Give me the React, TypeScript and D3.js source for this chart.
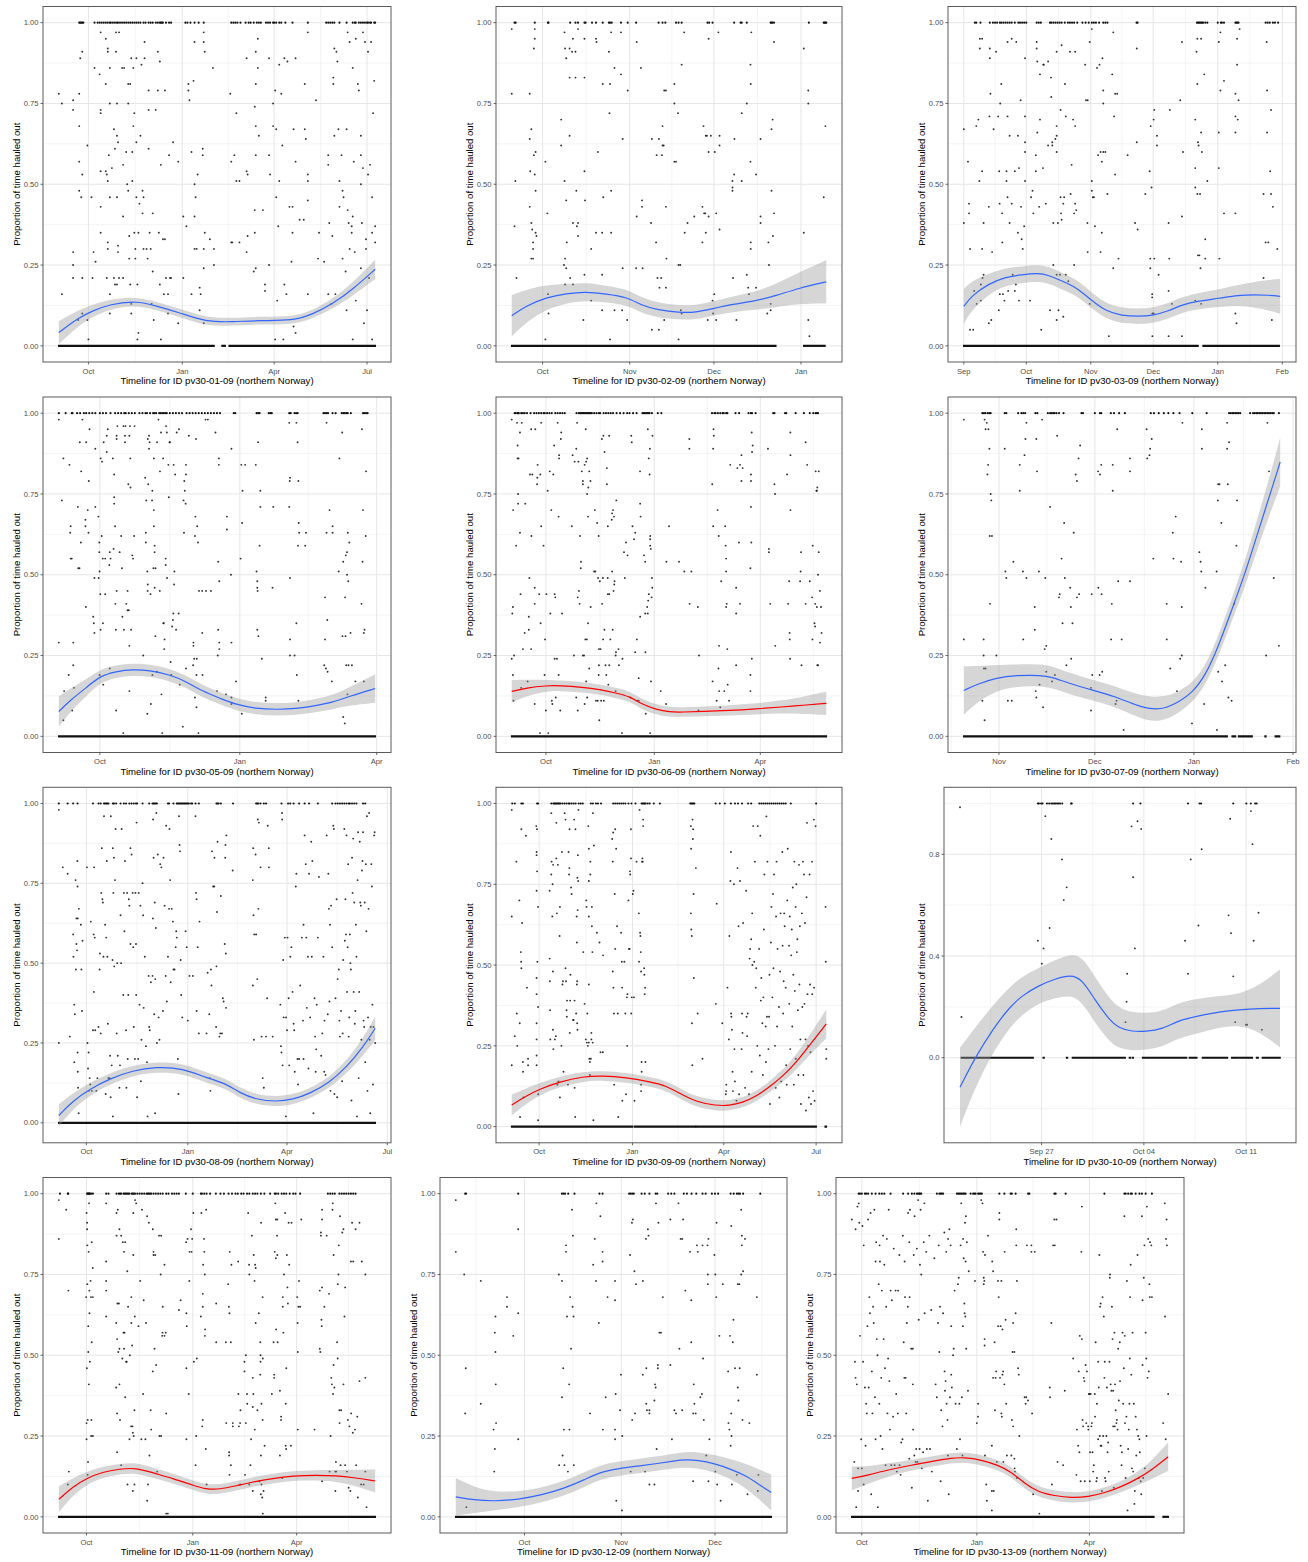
import React from "react";
import * as d3 from "d3";

// Daily haul-out proportions for harbour seals tagged in northern Norway.
// Each animal: deployment start, track length (days), scattered daily values
// (day offset, proportion), days fully hauled out (value 1), runs of days at
// value 0, and the smoothed trend [day, fit, half-width of the 95% band].

type Pt = [number, number];
type Fit = [number, number, number];

const seals = ["pv30-01-09", "pv30-02-09", "pv30-03-09", "pv30-05-09", "pv30-06-09", "pv30-07-09",
  "pv30-08-09", "pv30-09-09", "pv30-10-09", "pv30-11-09", "pv30-12-09", "pv30-13-09"];

const trackStarts = [
  new Date(2009, 8, 2), new Date(2009, 8, 20), new Date(2009, 8, 1), new Date(2009, 8, 4),
  new Date(2009, 8, 2), new Date(2009, 9, 21), new Date(2009, 8, 6), new Date(2009, 8, 4),
  new Date(2009, 8, 21, 10), new Date(2009, 8, 7), new Date(2009, 8, 9), new Date(2009, 8, 23),
];
const trackDays = [310, 112, 152, 208, 267, 99, 287, 310, 21.9, 274, 101, 253];

// smoother colour group per animal
const smoothGroup = ["a", "a", "a", "a", "b", "a", "a", "b", "a", "b", "a", "b"];

const ticks01: [Date, string][] = [[new Date(2009, 9, 1), "Oct"], [new Date(2010, 0, 1), "Jan"], [new Date(2010, 3, 1), "Apr"], [new Date(2010, 6, 1), "Jul"]];
const ticks02: [Date, string][] = [[new Date(2009, 9, 1), "Oct"], [new Date(2009, 10, 1), "Nov"], [new Date(2009, 11, 1), "Dec"], [new Date(2010, 0, 1), "Jan"]];
const ticks03: [Date, string][] = [[new Date(2009, 8, 1), "Sep"], [new Date(2009, 9, 1), "Oct"], [new Date(2009, 10, 1), "Nov"], [new Date(2009, 11, 1), "Dec"], [new Date(2010, 0, 1), "Jan"], [new Date(2010, 1, 1), "Feb"]];
const ticks05: [Date, string][] = [[new Date(2009, 9, 1), "Oct"], [new Date(2010, 0, 1), "Jan"], [new Date(2010, 3, 1), "Apr"]];
const ticks07: [Date, string][] = [[new Date(2009, 10, 1), "Nov"], [new Date(2009, 11, 1), "Dec"], [new Date(2010, 0, 1), "Jan"], [new Date(2010, 1, 1), "Feb"]];
const ticks10: [Date, string][] = [[new Date(2009, 8, 27), "Sep 27"], [new Date(2009, 9, 4), "Oct 04"], [new Date(2009, 9, 11), "Oct 11"]];
const ticks12: [Date, string][] = [[new Date(2009, 9, 1), "Oct"], [new Date(2009, 10, 1), "Nov"], [new Date(2009, 11, 1), "Dec"]];
const xTickSets = [ticks01, ticks02, ticks03, ticks05, ticks05, ticks07, ticks01, ticks01, ticks10, ticks05, ticks12, ticks05];

const yTicksQuarter: [number, string][] = [[0, "0.00"], [0.25, "0.25"], [0.5, "0.50"], [0.75, "0.75"], [1, "1.00"]];
const yTicksFifth: [number, string][] = [[0, "0.0"], [0.4, "0.4"], [0.8, "0.8"]];

// ---------- pv30-01-09 ----------
const p01Scatter: Pt[] = [[0,0.78],[3,0.75],[3,0.16],[14,0.76],[14,0.73],[14,0.29],[14,0.25],[14,0.21],[20,0.78],[20,0.68],[20,0.57],[20,0.48],[22,0.46],[23,0.53],[21,0.89],[23,0.91],[23,0.21],[23,0.1],[19,0.08],[28,0.08],[29,0.02],[28,0.62],[32,0.46],[33,0.21],[34,0.29],[35,0.86],[36,0.26],[40,0.84],[41,0.72],[41,0.73],[41,0.43],[41,0.54],[41,0.35],[46,0.54],[46,0.81],[41,0.97],[46,0.95],[48,0.92],[48,0.91],[47,0.53],[48,0.51],[49,0.59],[50,0.46],[48,0.32],[48,0.3],[47,0.21],[50,0.16],[50,0.1],[50,0.86],[50,0.75],[52,0.55],[54,0.67],[54,0.21],[55,0.61],[57,0.65],[58,0.63],[57,0.75],[56,0.97],[59,0.97],[56,0.91],[57,0.46],[58,0.31],[58,0.29],[59,0.21],[57,0.19],[55,0.19],[62,0.86],[63,0.56],[63,0.4],[63,0.21],[64,0.86],[66,0.6],[67,0.5],[68,0.48],[69,0.34],[69,0.27],[68,0.75],[68,0.81],[70,0.81],[71,0.89],[70,0.19],[71,0.13],[71,0.1],[72,0.51],[72,0.6],[73,0.86],[73,0.68],[74,0.72],[74,0.35],[75,0.3],[75,0.27],[76,0.46],[76,0.63],[76,0.89],[77,0.19],[77,0.02],[78,0.04],[78,0.35],[79,0.44],[80,0.65],[81,0.87],[82,0.48],[82,0.41],[83,0.46],[83,0.3],[84,0.89],[84,0.94],[86,0.3],[87,0.27],[88,0.61],[89,0.35],[90,0.3],[91,0.13],[92,0.41],[92,0.23],[93,0.08],[88,0.79],[88,0.73],[95,0.73],[97,0.79],[97,0.91],[99,0.88],[100,0.56],[100,0.02],[99,0.19],[98,0.35],[102,0.33],[103,0.16],[104,0.79],[104,0.33],[105,0.21],[107,0.16],[107,0.1],[109,0.21],[110,0.21],[108,0.59],[112,0.63],[117,0.57],[117,0.07],[122,0.4],[122,0.21],[125,0.37],[127,0.81],[127,0.79],[128,0.76],[130,0.16],[130,0.6],[132,0.82],[133,0.94],[133,0.5],[133,0.4],[133,0.3],[134,0.46],[135,0.3],[136,0.53],[138,0.18],[138,0.11],[139,0.16],[141,0.59],[141,0.61],[142,0.94],[142,0.97],[143,0.35],[143,0.91],[142,0.3],[142,0.24],[148,0.33],[151,0.86],[152,0.3],[152,0.25],[142,0.07],
  [168,0.78],[169,0.32],[170,0.32],[169,0.57],[172,0.59],[174,0.72],[174,0.51],[177,0.51],[177,0.32],[184,0.29],[184,0.54],[185,0.53],[185,0.34],[184,0.89],[191,0.23],[192,0.74],[192,0.42],[193,0.81],[193,0.59],[192,0.35],[193,0.24],[193,0.68],[193,0.91],[195,0.95],[195,0.86],[196,0.65],[200,0.42],[202,0.19],[202,0.17],[206,0.59],[206,0.25],[207,0.53],[206,0.89],[210,0.75],[210,0.68],[212,0.79],[212,0.02],[213,0.67],[213,0.46],[214,0.14],[215,0.37],[216,0.51],[216,0.87],[218,0.78],[219,0.62],[220,0.02],[221,0.19],[221,0.89],[223,0.16],[224,0.88],[226,0.43],[228,0.26],[229,0.43],[229,0.35],[230,0.67],[230,0.06],[232,0.04],[232,0.89],[232,0.57],[236,0.39],[240,0.39],[241,0.81],[241,0.67],[242,0.64],[244,0.97],[244,0.53],[244,0.51],[244,0.45],[244,0.16],[252,0.76],[254,0.27],[255,0.35],[260,0.26],[264,0.59],[264,0.56],[264,0.16],[265,0.38],[267,0.13],[268,0.34],[269,0.83],[269,0.81],[270,0.92],[271,0.16],[270,0.65],[272,0.91],[273,0.88],[274,0.67],[275,0.51],[275,0.43],[277,0.59],[278,0.48],[278,0.27],[279,0.46],[281,0.23],[282,0.11],[282,0.67],[283,0.42],[283,0.97],[284,0.38],[285,0.94],[285,0.3],[287,0.35],[287,0.37],[288,0.02],[288,0.4],[288,0.86],[289,0.57],[290,0.29],[291,0.14],[291,0.95],[293,0.81],[294,0.79],[296,0.65],[296,0.59],[296,0.24],[296,0.5],[297,0.38],[298,0.97],[298,0.55],[299,0.07],[300,0.94],[301,0.33],[301,0.3],[302,0.11],[303,0.91],[303,0.53],[304,0.21],[305,0.56],[306,0.94],[307,0.02],[307,0.46],[307,0.35],[308,0.72],[309,0.82],[310,0.32],[310,0.37]];
const p01Full = [20,21,22,23,24,35,38,40,42,44,46,48,50,51,53,55,57,58,60,62,64,66,68,70,72,74,76,78,80,83,85,88,90,92,95,97,99,100,101,102,105,108,110,124,126,129,133,137,142,169,171,173,175,178,183,186,188,191,194,196,198,203,205,207,210,211,213,216,218,222,229,244,262,264,266,268,270,275,282,288,290,291,294,296,298,300,302,303,305,306,309,310];
const p01ZeroRuns: Pt[] = [[0,152],[160,163],[167,310]];
const p01Fit: Fit[] = [[0,0.041,0.035],[20,0.088,0.024],[33,0.108,0.019],[50,0.129,0.015],[76,0.139,0.013],[95,0.124,0.013],[118,0.103,0.013],[144,0.074,0.013],[170,0.074,0.012],[197,0.079,0.012],[229,0.077,0.012],[249,0.098,0.013],[268,0.129,0.015],[288,0.175,0.02],[310,0.237,0.03]];

// ---------- pv30-02-09 ----------
const p02Scatter: Pt[] = [[0,0.78],[0,0.98],[1,0.37],[1.3,0.51],[1.7,0.21],[6.4,0.78],[6.4,0.64],[6.6,0.54],[7,0.67],[6.4,0.43],[7,0.38],[7.3,0.36],[7.6,0.32],[7.6,0.3],[7,0.27],[7.6,0.27],[7.9,0.92],[8.2,0.95],[8.2,0.98],[7.9,0.59],[8.2,0.53],[8.5,0.6],[8.5,0.48],[8.8,0.34],[8.5,0.35],[12,0.57],[12,0.02],[12.7,0.41],[12.9,0.16],[13.1,0.1],[17.6,0.7],[17.6,0.62],[18.6,0.25],[18.8,0.51],[18.8,0.97],[19,0.92],[19,0.27],[19.4,0.24],[19,0.19],[19.4,0.45],[19.6,0.32],[19.4,0.89],[20.6,0.92],[20.6,0.65],[20.6,0.83],[20.8,0.21],[21.5,0.91],[21.8,0.95],[21.8,0.38],[21.8,0.19],[22.7,0.83],[22.7,0.91],[23,0.48],[23.2,0.37],[23.6,0.38],[23.6,0.34],[23.6,0.98],[25.9,0.95],[25.9,0.83],[25.9,0.54],[26.1,0.45],[25.9,0.22],[25.5,0.08],[28.3,0.3],[28.3,0.14],[30,0.95],[30.2,0.94],[30.7,0.6],[30,0.35],[32.2,0.35],[32.4,0.81],[32.6,0.46],[32.2,0.22],[32.2,0.11],[34.6,0.91],[34.8,0.72],[35,0.81],[35.4,0.97],[35.4,0.48],[35.4,0.35],[35,0.02],[36.6,0.86],[36.6,0.11],[38.9,0.97],[38.9,0.84],[39.3,0.11],[39.5,0.64],[39.5,0.24],[41.3,0.79],[41.1,0.08],[44.3,0.24],[44.5,0.94],[44.5,0.4],[46,0.86],[46.4,0.45],[46.4,0.43],[46.6,0.24],[49.6,0.38],[49.9,0.05],[49.9,0.64],[51.4,0.32],[51.6,0.59],[51.9,0.21],[52.4,0.64],[52.4,0.05],[52.6,0.18],[53.2,0.21],[53.5,0.59],[53.7,0.68],[53.7,0.62],[54.1,0.62],[54.3,0.79],[54.9,0.79],[54.9,0.18],[54.3,0.08],[54.9,0.43],[55.1,0.27],[57.9,0.81],[57.9,0.75],[57.9,0.57],[58.5,0.57],[59.2,0.72],[59.4,0.25],[60,0.25],[60.2,0.11],[60.5,0.1],[60.5,0.87],[59.4,0.02],[61.4,0.97],[61.6,0.35],[62.6,0.38],[65,0.4],[67.9,0.32],[67.9,0.43],[68.3,0.68],[68.5,0.41],[68.9,0.41],[69.1,0.35],[69.1,0.65],[69.5,0.65],[70.1,0.6],[70.1,0.95],[70.1,0.4],[69.8,0.08],[70.9,0.65],[71.5,0.14],[71.7,0.1],[72.1,0.16],[72.3,0.6],[72.8,0.41],[73.6,0.97],[74,0.36],[74,0.62],[74,0.65],[72.8,0.08],[78.6,0.51],[78.6,0.49],[78.6,0.48],[78.8,0.21],[79.2,0.53],[79.3,0.64],[80,0.08],[81.9,0.51],[81.9,0.72],[83.7,0.75],[83.7,0.22],[84.2,0.18],[84.5,0.16],[85,0.57],[85.1,0.32],[85.1,0.3],[85.3,0.97],[85.1,0.81],[85,0.87],[87,0.53],[87,0.18],[88.6,0.64],[88.6,0.4],[88.6,0.38],[91,0.1],[91.4,0.32],[91.6,0.25],[92.2,0.13],[92.2,0.11],[92.5,0.67],[92.5,0.48],[92.9,0.7],[93.4,0.41],[93,0.34],[93.4,0.94],[104,0.92],[104,0.35],[105.6,0.79],[105.6,0.75],[105.6,0.08],[106,0.03],[111.1,0.46],[111.7,0.68]];
const p02Full = [1,1.4,8.2,12.9,13.1,20.8,22.7,23.6,25.9,26.3,28.6,30,32.4,34.6,35,35.6,38.9,41.3,44.3,52.3,53.7,54.7,58.5,59.4,60.5,69.7,70.3,71.5,79.2,81.5,81.9,83.7,92.2,92.5,92.8,93.4,105.8,111.1,111.4,111.7,112];
const p02ZeroRuns: Pt[] = [[0,94],[104,111.5]];
const p02Fit: Fit[] = [[0,0.093,0.064],[5.2,0.124,0.05],[12.3,0.15,0.038],[19.4,0.162,0.03],[26.5,0.168,0.028],[33.6,0.16,0.026],[40.7,0.152,0.025],[46.6,0.124,0.024],[52,0.111,0.023],[59.6,0.103,0.022],[65.6,0.103,0.022],[71.5,0.115,0.022],[78.6,0.129,0.024],[86.9,0.139,0.028],[94,0.155,0.036],[102,0.178,0.048],[112,0.198,0.067]];

// ---------- pv30-03-09 ----------
const p03Scatter: Pt[] = [[0,0.67],[0,0.38],[2,0.57],[2.5,0.41],[2.5,0.44],[3,0.3],[3,0.05],[4.5,0.05],[5,0.17],[6,0.68],[6.2,0.13],[7,0.7],[7.5,0.51],[7.7,0.95],[7.7,0.92],[8.2,0.19],[8.2,0.14],[8.8,0.95],[8.8,0.54],[8.8,0.3],[9,0.21],[9.5,0.38],[9.5,0.22],[12,0.43],[12,0.07],[12.3,0.71],[12.5,0.89],[12.5,0.92],[12.8,0.78],[13.2,0.08],[13.6,0.29],[14.3,0.67],[15.5,0.91],[16.5,0.71],[16.8,0.11],[17,0.54],[17.2,0.44],[17.3,0.16],[17.5,0.75],[18,0.81],[18.4,0.41],[18.5,0.32],[18.8,0.16],[19.5,0.14],[20.5,0.51],[20.5,0.54],[21,0.94],[21,0.71],[21,0.46],[21.3,0.17],[22,0.65],[22,0.38],[23,0.95],[23,0.44],[23.5,0.22],[24.5,0.54],[24.5,0.17],[25,0.19],[25.2,0.94],[26,0.35],[26,0.65],[26.5,0.55],[26.5,0.14],[27.3,0.76],[27.5,0.43],[27.8,0.33],[28.3,0.3],[29,0.37],[29.4,0.89],[29.4,0.63],[29.4,0.6],[29.4,0.51],[29.4,0.71],[31.8,0.14],[32.3,0.46],[33,0.48],[33.4,0.41],[34.6,0.54],[34.6,0.59],[35,0.94],[35,0.92],[35.3,0.88],[35.3,0.66],[36.2,0.43],[36.6,0.7],[36.6,0.84],[37.2,0.05],[38,0.55],[38.2,0.87],[38.4,0.87],[39.4,0.44],[40.5,0.62],[40.5,0.88],[41.4,0.11],[41.9,0.83],[42,0.77],[42.5,0.62],[42.5,0.63],[43,0.38],[43,0.25],[44,0.64],[44.6,0.65],[44.6,0.6],[44.6,0.68],[44.6,0.91],[44.6,0.22],[44.6,0.08],[45.2,0.38],[45.5,0.11],[46.2,0.22],[46.5,0.73],[46.5,0.46],[46.7,0.41],[47,0.39],[47,0.93],[47.8,0.44],[47.8,0.09],[48.2,0.46],[48.6,0.81],[49,0.71],[49,0.22],[50.2,0.2],[51,0.91],[51.3,0.47],[51.8,0.56],[52.5,0.7],[53,0.41],[53,0.25],[53.5,0.44],[53.5,0.68],[54,0.42],[53.5,0.91],[58.3,0.87],[58.7,0.76],[59.5,0.76],[59.4,0.38],[59.5,0.29],[60.5,0.94],[60.5,0.13],[61.5,0.98],[61.5,0.51],[61.5,0.48],[62,0.46],[62.5,0.46],[63,0.37],[64,0.86],[64.5,0.59],[65.2,0.87],[65.7,0.29],[65.7,0.6],[66.3,0.57],[66.3,0.35],[66.6,0.89],[67,0.79],[67,0.75],[67,0.6],[68,0.6],[69,0.47],[69.7,0.03],[71.3,0.84],[71.8,0.97],[71.8,0.24],[72.2,0.71],[72.7,0.53],[72.7,0.78],[73.7,0.78],[74.3,0.27],[78.7,0.59],[82.3,0.38],[83.1,0.63],[83.1,0.92],[83.5,0.36],[87.2,0.47],[89.3,0.54],[89.6,0.27],[89.6,0.24],[89.8,0.68],[90.2,0.49],[90.5,0.16],[90.5,0.15],[90.6,0.1],[90.6,0.03],[91.2,0.1],[91.2,0.7],[91.5,0.73],[91.5,0.27],[92.8,0.65],[92.8,0.62],[93.6,0.22],[98.4,0.03],[98.4,0.38],[98.4,0.17],[98.7,0.27],[99,0.73],[100,0.13],[104,0.76],[104.8,0.03],[104.8,0.94],[105.3,0.6],[104.8,0.4],[111.2,0.7],[111.2,0.55],[111.2,0.49],[111.2,0.14],[111.8,0.91],[112.2,0.95],[112.2,0.81],[112.2,0.47],[112.5,0.28],[112.5,0.63],[112.8,0.62],[113.2,0.28],[113.5,0.47],[113.7,0.24],[114,0.95],[114,0.66],[114,0.13],[114.4,0.6],[115.5,0.84],[116,0.27],[116,0.33],[117,0.51],[122.5,0.94],[122.5,0.66],[122.5,0.55],[122.8,0.27],[123.3,0.97],[123.3,0.79],[125,0.41],[125,0.82],[130.5,0.66],[130.5,0.71],[130.5,0.78],[130.5,0.41],[130.5,0.1],[131,0.07],[131.3,0.95],[131.3,0.87],[131.6,0.7],[132,0.76],[132.5,0.98],[144,0.47],[144,0.21],[145,0.32],[145.5,0.94],[145.7,0.79],[145.7,0.66],[146.3,0.32],[147.2,0.54],[147.6,0.47],[147.6,0.73],[148,0.08],[148.5,0.43],[150.6,0.3]];
const p03Full = [5.3,6,8,12.5,14,15,16,17.3,18,19,20,21,22,23,24.5,26.2,27,28,29,30,35,36,37,41.4,42,43,44,45,46,47,48.5,50,51,52,53,54.5,57,58.5,60,61.5,62.5,63.5,65,67,68,69,83,83.5,112,112.5,113,113.5,114,114.5,115,116,117,122,123.5,124,125,130.5,131,131.5,132,145,146,147,148.5,149.5,151];
const p03ZeroRuns: Pt[] = [[0,112.5],[115,151.5]];
const p03Fit: Fit[] = [[0,0.122,0.054],[3.7,0.155,0.045],[11.7,0.191,0.032],[19.7,0.213,0.027],[27.8,0.22,0.026],[35.8,0.225,0.026],[40.6,0.219,0.026],[47,0.201,0.026],[54.3,0.18,0.025],[60.7,0.144,0.025],[67.9,0.108,0.024],[75.9,0.093,0.024],[84,0.091,0.024],[90.4,0.093,0.024],[98.4,0.108,0.024],[104.8,0.127,0.024],[112.8,0.139,0.025],[122.5,0.147,0.027],[132,0.157,0.032],[140,0.158,0.04],[146.5,0.157,0.047],[152,0.153,0.054]];

// ---------- pv30-05-09 ----------
const p05Scatter: Pt[] = [[0,0.98],[0,0.29],[2,0.73],[3,0.86],[3,0.05],[3.5,0.14],[6.5,0.19],[7,0.84],[7.5,0.63],[7.8,0.65],[7.8,0.55],[8.5,0.55],[8.8,0.08],[9.5,0.29],[9.5,0.22],[10,0.15],[12.5,0.71],[12.8,0.52],[13.6,0.52],[13.8,0.91],[14.5,0.6],[14.7,0.82],[15.5,0.98],[17.5,0.67],[17.5,0.65],[17.8,0.4],[18,0.91],[19,0.7],[19.5,0.63],[19.7,0.79],[20.2,0.95],[22.6,0.37],[23,0.35],[23.4,0.32],[23.4,0.49],[24,0.89],[24,0.71],[26,0.68],[26.2,0.49],[26.6,0.6],[26.6,0.57],[26.8,0.51],[26.8,0.19],[27.3,0.44],[27.5,0.86],[27.5,0.33],[28.2,0.62],[28.4,0.85],[28.9,0.55],[29,0.35],[29.2,0.16],[29.5,0.91],[30.5,0.44],[30.5,0.55],[31.5,0.88],[32.2,0.95],[31.5,0.93],[33.2,0.53],[33.5,0.57],[33.5,0.21],[34,0.55],[35.5,0.86],[36,0.58],[36.4,0.81],[36.4,0.74],[36.4,0.72],[37,0.65],[37.2,0.41],[37.5,0.33],[37.7,0.08],[38,0.45],[38,0.93],[38,0.92],[38.5,0.96],[40,0.57],[41,0.62],[41.5,0.52],[41.8,0.37],[42.4,0.01],[42.5,0.96],[42.8,0.33],[43.5,0.91],[43.5,0.93],[43.8,0.96],[44.4,0.41],[45.2,0.45],[45.2,0.39],[45.7,0.78],[46,0.39],[46.4,0.28],[46.4,0.93],[46.4,0.14],[46.8,0.96],[47,0.86],[47.1,0.77],[47.5,0.33],[48.3,0.56],[48.8,0.55],[49.5,0.62],[49.8,0.96],[55.5,0.25],[56.8,0.8],[57.2,0.63],[57.2,0.6],[57.5,0.73],[58.2,0.51],[58.4,0.45],[58.2,0.07],[58.5,0.47],[58.8,0.78],[58.5,0.92],[59.3,0.89],[59.3,0.93],[59.7,0.91],[60.3,0.44],[60.5,0.1],[61.3,0.73],[61.5,0.76],[61.5,0.19],[62.2,0.52],[62.5,0.65],[62.5,0.86],[62.5,0.7],[63,0.57],[63,0.46],[63,0.59],[63.5,0.31],[63.6,0.52],[64.6,0.91],[65.5,0.98],[64.5,0.2],[66.4,0.45],[66.5,0.82],[67.2,0.94],[67.5,0.13],[68,0.01],[68.6,0.86],[68.7,0.35],[69,0.35],[69.3,0.27],[69.5,0.3],[70.3,0.55],[70.3,0.53],[70.5,0.96],[71,0.94],[71.2,0.49],[72,0.84],[72.3,0.74],[72.8,0.91],[73,0.91],[73.5,0.23],[74,0.19],[74.5,0.34],[75,0.36],[75.3,0.38],[75.5,0.84],[75.8,0.47],[76,0.51],[76.5,0.81],[77.1,0.33],[77.5,0.94],[78.8,0.38],[79.5,0.16],[79,0.95],[81.5,0.03],[82,0.73],[82.3,0.63],[82.5,0.79],[82.8,0.76],[83.4,0.72],[83.6,0.81],[83.6,0.84],[83.6,0.21],[85.5,0.93],[88.3,0.22],[88.5,0.28],[88.5,0.29],[89,0.24],[89.5,0.12],[89.5,0.62],[89.8,0.68],[90.2,0.92],[90.5,0.19],[90.5,0.09],[90.7,0.24],[91,0.65],[91.5,0.6],[91.8,0.01],[92.2,0.45],[94.3,0.45],[94.3,0.32],[94.5,0.19],[96.5,0.98],[96.8,0.45],[98,0.98],[100,0.45],[103,0.94],[104,0.14],[104.5,0.25],[104.8,0.33],[104.8,0.54],[105.2,0.86],[105.2,0.84],[105.5,0.48],[105.5,0.29],[105.5,0.27],[109.9,0.13],[110.5,0.68],[110.5,0.64],[113.5,0.89],[113.5,0.29],[113.5,0.1],[113.2,0.5],[113.5,0.12],[116.5,0.17],[119.5,0.55],[120,0.84],[120.3,0.07],[120.5,0.66],[120.8,0.76],[122.5,0.84],[129.5,0.84],[130,0.51],[130.5,0.48],[130.5,0.46],[130.5,0.33],[130.7,0.45],[131,0.91],[131.2,0.31],[132,0.59],[132.5,0.71],[132.5,0.76],[133.5,0.24],[136,0.12],[136,0.11],[140.5,0.46],[141,0.71],[151.5,0.71],[151.5,0.97],[151.8,0.79],[152,0.8],[152,0.49],[152,0.3],[152,0.25],[155,0.25],[156.2,0.97],[156.2,0.35],[156.5,0.19],[157,0.91],[157.3,0.59],[157.5,0.79],[157.5,0.11],[157.7,0.66],[158,0.63],[162,0.59],[162.5,0.63],[174.5,0.22],[175,0.43],[175,0.3],[175.6,0.21],[176,0.97],[176,0.63],[176.5,0.36],[176.7,0.2],[178,0.7],[179.5,0.17],[180,0.65],[180,0.63],[184,0.51],[184.5,0.86],[186.3,0.94],[186.5,0.31],[187,0.06],[187,0.54],[188,0.04],[188.2,0.43],[188.5,0.31],[188.7,0.56],[189,0.22],[189.5,0.5],[189.5,0.57],[189.8,0.13],[190,0.63],[190.3,0.48],[191,0.6],[190.5,0.22],[191.8,0.32],[192.7,0.22],[195,0.17],[199,0.41],[199.3,0.95],[199.7,0.54],[200,0.7],[200.5,0.17],[200.5,0.32],[201,0.33],[202,0.82],[201.8,0.62]];
const p05Full = [0,4.5,8.5,9,12,14,16.5,18,20,22,24,27,29,31,34,37,39,41,43,44,46,48,50,53,55,57,58,60,62,63,64,66,67,68,69,70,71,73,75,77,79,81,84,86,88,90,92,94,96,98,100,102,104,106,115,116,130,131,132,138,139,140,151.5,152.5,155,156,157,174,175,176,177,180,182,186,187,188,189,190,192,200,201,202,203];
const p05ZeroRuns: Pt[] = [[0,208]];
const p05Fit: Fit[] = [[0,0.077,0.047],[8.1,0.114,0.035],[18,0.15,0.026],[26.7,0.186,0.021],[37.7,0.201,0.019],[48.6,0.207,0.019],[59.6,0.204,0.019],[72.7,0.191,0.019],[83.6,0.17,0.019],[94.6,0.139,0.019],[105.5,0.119,0.019],[116.5,0.098,0.019],[129.6,0.086,0.019],[142.8,0.083,0.019],[155.9,0.085,0.019],[169,0.095,0.02],[180,0.105,0.022],[191,0.124,0.028],[208,0.148,0.044]];

// ---------- pv30-06-09 ----------
const p06Scatter: Pt[] = [[0,0.98],[0,0.24],[0.5,0.38],[1,0.19],[1.5,0.11],[1,0.4],[1.2,0.7],[2,0.25],[3.8,0.59],[4.5,0.97],[5,0.9],[5,0.86],[5.4,0.75],[5.4,0.72],[5.8,0.86],[7,0.63],[7,0.94],[7.5,0.44],[8,0.15],[8.5,0.97],[9.5,0.27],[11,0.32],[11.5,0.72],[13.5,0.17],[14.5,0.33],[14.5,0.37],[15,0.49],[15.5,0.81],[16.5,0.95],[16.5,0.27],[16.7,0.62],[17.5,0.81],[19.5,0.46],[19.5,0.41],[19.5,0.1],[20,0.95],[21.5,0.78],[21.7,0.8],[22,0.84],[23.3,0.44],[24,0.01],[24.3,0.81],[24.5,0.35],[25,0.65],[25,0.97],[27,0.59],[27.9,0.19],[28.3,0.3],[29,0.08],[29.5,0.44],[30.5,0.76],[31,0.01],[32.3,0.82],[32.8,0.38],[33.6,0.7],[34,0.11],[34.5,0.1],[35.3,0.81],[36,0.9],[36.4,0.24],[36.4,0.44],[37,0.43],[37.4,0.12],[38.4,0.24],[39,0.97],[39.8,0.68],[39.8,0.19],[40.2,0.86],[40.2,0.87],[41.2,0.08],[41.7,0.92],[42,0.94],[42.7,0.38],[51,0.65],[51.7,0.87],[52.8,0.25],[53.4,0.85],[54.8,0.12],[54.8,0.89],[55.5,0.97],[56,0.43],[56,0.08],[56.6,0.85],[57,0.45],[57.6,0.41],[58,0.62],[58.6,0.52],[58.8,0.54],[59.5,0.82],[60.4,0.79],[60.4,0.78],[60.4,0.25],[61.4,0.25],[61.9,0.1],[61.9,0.84],[62.5,0.3],[62.8,0.95],[63.2,0.85],[63.2,0.17],[63.8,0.3],[64,0.86],[64,0.75],[64,0.12],[64.8,0.68],[64.8,0.35],[65,0.77],[65.8,0.21],[65.8,0.82],[66.8,0.79],[67,0.4],[70,0.51],[70.5,0.7],[71,0.51],[71.5,0.11],[72.5,0.66],[73,0.11],[73.3,0.49],[73.8,0.62],[73.8,0.19],[74,0.27],[74,0.22],[74.3,0.05],[74.8,0.48],[75.4,0.27],[75.9,0.11],[76.5,0.92],[76.7,0.41],[77.4,0.49],[77.8,0.93],[77.6,0.3],[78.2,0.11],[78.7,0.33],[78.8,0.88],[79.6,0.22],[80.3,0.19],[80.8,0.83],[80.8,0.78],[81.5,0.49],[81.6,0.65],[81.6,0.44],[82,0.16],[82.7,0.93],[82.8,0.44],[82.8,0.22],[83.7,0.3],[84.9,0.67],[85.2,0.51],[85.2,0.69],[85.7,0.33],[86,0.7],[86.4,0.45],[86.8,0.68],[87,0.47],[87.3,0.48],[88.2,0.14],[88.2,0.25],[88.5,0.26],[88.8,0.73],[90.6,0.27],[91,0.22],[93.6,0.01],[94,0.24],[95.3,0.57],[96,0.49],[97,0.6],[98.3,0.56],[100.8,0.12],[101.5,0.93],[101.9,0.91],[102.5,0.65],[103.8,0.61],[104.8,0.63],[104.8,0.26],[106.2,0.3],[106.6,0.11],[107.8,0.11],[107.8,0.18],[108.9,0.82],[109,0.72],[109,0.37],[109.4,0.68],[112.3,0.56],[113.3,0.38],[113.3,0.54],[113.5,0.26],[113.8,0.07],[115,0.4],[115.5,0.38],[115.5,0.95],[115.8,0.42],[116.4,0.44],[116.3,0.86],[117,0.81],[117.5,0.01],[117.3,0.89],[117.5,0.61],[117.6,0.62],[117.5,0.59],[118.2,0.17],[118,0.58],[118.8,0.43],[119,0.49],[119.3,0.46],[119.5,0.93],[126.5,0.14],[131,0.1],[131.3,0.54],[133.5,0.65],[142,0.54],[146.5,0.51],[150.8,0.92],[150.8,0.89],[151,0.41],[152.5,0.51],[158,0.4],[158.5,0.08],[159,0.25],[170.2,0.78],[170.5,0.17],[171,0.65],[171,0.89],[171.3,0.95],[171.5,0.93],[174,0.11],[174.7,0.7],[175.5,0.21],[175.7,0.62],[176,0.28],[176.1,0.14],[177,0.09],[177.8,0.48],[180.4,0.14],[181.2,0.65],[181.6,0.59],[182,0.55],[182,0.51],[182,0.4],[182.5,0.41],[183,0.27],[183.3,0.16],[184.5,0.11],[185.5,0.84],[190.5,0.22],[190.5,0.38],[190.5,0.46],[191.5,0.83],[192.9,0.6],[193.8,0.41],[193.8,0.84],[195,0.87],[195,0.79],[196,0.83],[202.6,0.14],[202.6,0.19],[202.6,0.52],[203.1,0.71],[203.1,0.81],[203.1,0.79],[203.4,0.6],[203.8,0.24],[204,0.88],[204.5,0.9],[203.7,0.94],[217.5,0.89],[218.3,0.58],[218.3,0.57],[219.5,0.41],[223,0.78],[223.5,0.75],[223.7,0.28],[233.7,0.81],[234.6,0.41],[235.5,0.48],[235.9,0.32],[236,0.3],[236.3,0.24],[236.5,0.94],[236.6,0.87],[236.6,0.7],[244.8,0.48],[245.2,0.51],[245.6,0.57],[246,0.22],[249.5,0.41],[249.5,0.91],[250.8,0.84],[253,0.48],[255,0.43],[255.3,0.3],[255.5,0.59],[257,0.35],[257.5,0.34],[257.6,0.41],[258,0.82],[258.6,0.76],[259,0.4],[259,0.76],[259.4,0.22],[259.4,0.77],[260,0.22],[260.6,0.82],[260.6,0.57],[261.6,0.45],[261.7,0.29],[262.5,0.4],[263,0.32],[260,0.5]];
const p06Full = [2.5,3.5,5,5.5,6,8,9.5,11,13,16,19,21,23,25,27,28,30,32,34,37,39,41,43,45,55,57,58,59,60,61,62,63,64,65,66,67,68,70,72,74,75,78,80,82,84,86,89,92,95,98,100,103,106,111,112,113,114,115,116,117,119,124,127,170,172,173,175,177,179,180,182,183,190,193,201,203,204,207,222,223,232,233,241,248,253,256,258,259,260];
const p06ZeroRuns: Pt[] = [[0,267]];
const p06Fit: Fit[] = [[0,0.139,0.035],[12.4,0.15,0.025],[29.4,0.157,0.018],[40.6,0.157,0.016],[60.4,0.152,0.016],[74.5,0.145,0.016],[88.6,0.134,0.016],[99.9,0.124,0.016],[111.2,0.098,0.016],[122.5,0.083,0.016],[133.8,0.075,0.015],[145,0.075,0.015],[162,0.077,0.015],[184.6,0.08,0.016],[207.2,0.085,0.017],[229.7,0.091,0.02],[246.7,0.096,0.026],[267,0.102,0.036]];

// ---------- pv30-07-09 ----------
const p07Scatter: Pt[] = [[0,0.98],[0,0.3],[5.8,0.11],[6.2,0.3],[6.2,0.25],[6.3,0.21],[6.5,0.98],[6.8,0.95],[6.5,0.05],[6.8,0.21],[7.2,0.97],[7.4,0.81],[7.6,0.84],[7.7,0.95],[8,0.89],[8.1,0.62],[8.4,0.75],[8.6,0.73],[8.8,0.62],[8.2,0.41],[10.2,0.25],[12.8,0.89],[13,0.51],[13.3,0.49],[13.8,0.11],[15,0.11],[15.5,0.54],[17.5,0.84],[17.5,0.76],[18.5,0.51],[18.6,0.3],[19,0.87],[19.3,0.92],[19.6,0.97],[19.6,0.49],[22.2,0.4],[22.2,0.33],[22.5,0.14],[22.7,0.92],[22.9,0.82],[22.7,0.12],[23.5,0.51],[23.7,0.16],[24.5,0.98],[24.8,0.09],[25.3,0.27],[25.5,0.49],[25.8,0.28],[25.8,0.2],[27,0.71],[27.6,0.17],[28.5,0.19],[29.2,0.93],[29.8,0.43],[30,0.44],[30.6,0.55],[30.9,0.35],[31.4,0.66],[31.6,0.49],[32.1,0.22],[33.3,0.46],[33.6,0.24],[33.5,0.4],[34,0.35],[34.4,0.63],[35,0.81],[35.4,0.79],[35.4,0.43],[35.9,0.86],[36.1,0.44],[36.4,0.9],[39.8,0.08],[39.8,0.15],[40,0.44],[40.2,0.19],[42,0.82],[42.1,0.46],[42.6,0.81],[42.5,0.19],[43,0.84],[43.1,0.44],[43.3,0.2],[46.1,0.3],[46.3,0.41],[46.6,0.84],[46.6,0.76],[47.5,0.1],[47.8,0.11],[48,0.95],[48.3,0.48],[49.4,0.3],[50,0.02],[52,0.86],[52,0.82],[52,0.48],[57.2,0.95],[57.4,0.86],[58.1,0.87],[58.3,0.89],[58.8,0.92],[59.3,0.55],[63.5,0.41],[63.5,0.3],[64.6,0.21],[65.4,0.63],[65.6,0.55],[66.3,0.68],[66.7,0.14],[68,0.54],[67.7,0.24],[68.2,0.25],[68.2,0.4],[68.4,0.97],[71.4,0.04],[73.7,0.57],[74.1,0.54],[74.3,0.51],[74.5,0.95],[74.5,0.89],[75.2,0.1],[75.6,0.46],[79.1,0.51],[79.2,0.02],[79.6,0.2],[79.6,0.78],[79.5,0.73],[80,0.78],[80.6,0.66],[80.8,0.17],[81.8,0.22],[82.4,0.97],[82.4,0.89],[82.6,0.78],[82.8,0.12],[83,0.91],[83.8,0.11],[84.6,0.41],[85.3,0.59],[85.5,0.73],[94.6,0.25],[95,0.97],[95.5,0.82],[97,0.49],[98.6,0.28]];
const p07Full = [5.8,6.3,6.8,7.5,8,8.4,12.8,13.3,17,18,18.6,19.2,22.4,23,26.3,27,27.5,28,28.4,29,29.8,31.2,36.8,37.3,41,42.6,43,46,47,48.6,50.4,58.5,59.5,61,62.6,64,65.6,67.5,71.5,76,83,83.5,84,84.5,85,85.5,86,86.5,89.6,90.5,91,91.5,92,92.5,93,93.5,94,94.5,95,95.5,96,96.5,97,98.6];
const p07ZeroRuns: Pt[] = [[0,82.4],[84,85],[86,90.2],[94.3,94.5],[97.5,98.8]];
const p07Fit: Fit[] = [[0,0.142,0.075],[4.4,0.162,0.055],[10.2,0.181,0.04],[16.4,0.189,0.034],[24.3,0.189,0.034],[27.4,0.184,0.034],[32.6,0.165,0.033],[40.5,0.142,0.032],[47.3,0.124,0.032],[54.6,0.093,0.035],[59.3,0.083,0.038],[63.5,0.088,0.036],[67.2,0.106,0.033],[71.4,0.134,0.03],[75.6,0.188,0.03],[79.7,0.279,0.032],[83.9,0.393,0.035],[88.1,0.506,0.04],[92.3,0.64,0.048],[96,0.754,0.06],[99,0.849,0.075]];

// ---------- pv30-08-09 ----------
const p08Scatter: Pt[] = [[0,0.98],[0,0.25],[3.6,0.8],[8,0.78],[10,0.27],[13,0.59],[13.3,0.52],[14,0.19],[14,0.37],[14.5,0.34],[15.2,0.76],[15.5,0.48],[16,0.64],[16,0.56],[16.5,0.54],[16.8,0.82],[17,0.74],[17,0.22],[17.2,0.64],[17.2,0.16],[17.5,0.11],[18,0.03],[18.2,0.67],[20,0.62],[20.5,0.48],[21,0.35],[21.5,0.57],[25.5,0.8],[26,0.25],[26.5,0.17],[27,0.22],[27.3,0.1],[28,0.14],[28.5,0.12],[29,0.63],[30,0.1],[31,0.29],[31.6,0.59],[31.8,0.41],[32,0.8],[32.6,0.58],[33,0.29],[34,0.1],[35,0.14],[36,0.3],[37,0.48],[37.3,0.53],[38,0.28],[38.5,0.72],[39,0.86],[39.5,0.7],[40,0.69],[40.5,0.52],[41,0.96],[42,0.62],[42.5,0.09],[43,0.58],[43.5,0.82],[44,0.52],[44.5,0.31],[45,0.14],[46,0.14],[46.5,0.21],[47,0.08],[47.2,0.96],[48,0.18],[48.7,0.51],[49,0.02],[49,0.86],[49.5,0.72],[50,0.83],[50.3,0.49],[51,0.76],[51.5,0.92],[52.5,0.28],[53,0.5],[53.5,0.21],[55,0.11],[55.5,0.18],[56,0.65],[56.5,0.5],[57,0.92],[58.5,0.4],[59,0.72],[59.5,0.6],[60,0.82],[61,0.29],[61.3,0.11],[62,0.72],[62.5,0.2],[63,0.4],[63.5,0.7],[64,0.68],[65,0.56],[65,0.86],[66,0.84],[67,0.72],[67.5,0.55],[68,0.3],[69,0.2],[69.5,0.72],[70,0.56],[70.2,0.4],[70.5,0.94],[71,0.08],[72,0.2],[72.5,0.72],[73.2,0.37],[74,0.68],[74.5,0.13],[75,0.26],[76,0.75],[76.5,0.65],[77,0.36],[78,0.52],[79,0.24],[80,0.19],[80.5,0.02],[81.5,0.46],[82,0.3],[82.5,0.29],[83.5,0.44],[85,0.46],[85.3,0.64],[85.5,0.95],[86,0.83],[86.5,0.34],[87,0.69],[87.3,0.03],[87.5,0.45],[88,0.61],[88.5,0.97],[89,0.25],[89.8,0.84],[90.5,0.33],[91.3,0.26],[92,0.81],[93,0.8],[94.5,0.35],[95,0.83],[96,0.68],[97,0.46],[97.4,0.93],[98,0.38],[99,0.52],[100,0.67],[100.4,0.92],[101,0.76],[101.5,0.44],[102.5,0.67],[103.5,0.63],[104,0.48],[105,0.48],[106,0.55],[106.5,0.6],[107,0.58],[108,0.2],[108.5,0.09],[109,0.96],[109.5,0.87],[110,0.85],[110.5,0.51],[111,0.4],[112,0.33],[115,0.6],[116,0.55],[117,0.32],[118.5,0.46],[121.6,0.46],[124,0.96],[124.5,0.72],[125,0.7],[125,0.35],[126,0.55],[127,0.28],[127.6,0.63],[134,0.28],[135,0.47],[136.5,0.34],[137,0.14],[137.5,0.1],[138,0.48],[138.5,0.43],[139,0.85],[140,0.74],[141,0.74],[141.2,0.83],[142.7,0.3],[143,0.49],[143.5,0.66],[144,0.88],[145.7,0.27],[146.5,0.28],[147,0.71],[148,0.28],[148.8,0.39],[149.5,0.38],[150.5,0.56],[151,0.83],[151.2,0.87],[151.5,0.53],[151.7,0.36],[152,0.9],[157.7,0.79],[176,0.76],[176,0.43],[176.3,0.86],[176.6,0.65],[177,0.26],[177.3,0.59],[178.5,0.84],[179,0.59],[180,0.45],[180.5,0.95],[181,0.67],[181.5,0.94],[183,0.8],[184,0.27],[185,0.14],[186,0.11],[188,0.27],[189,0.39],[189.5,0.93],[190.5,0.86],[190.6,0.8],[194,0.27],[201,0.37],[201.5,0.24],[202,0.22],[202.5,0.97],[202.6,0.95],[203,0.18],[203.5,0.51],[204,0.33],[205,0.58],[206,0.02],[206.2,0.33],[207,0.29],[207.5,0.58],[208.5,0.39],[209,0.18],[210,0.52],[211,0.55],[212,0.41],[213,0.31],[213.5,0.29],[214,0.16],[215,0.74],[215.5,0.78],[216.5,0.2],[217,0.12],[218,0.2],[219,0.43],[220.5,0.58],[221.5,0.32],[222,0.62],[222,0.2],[223,0.9],[224,0.81],[224.5,0.58],[225,0.36],[226,0.52],[226.5,0.17],[227,0.78],[228,0.33],[229,0.88],[229.5,0.52],[230,0.82],[231,0.03],[232,0.39],[232.5,0.27],[233,0.16],[233.5,0.23],[234,0.37],[235,0.58],[236,0.77],[238,0.21],[239,0.28],[240,0.52],[240.8,0.16],[241,0.32],[242,0.15],[243,0.9],[244,0.34],[244.5,0.78],[245,0.67],[245.5,0.38],[246,0.62],[246.5,0.1],[247,0.68],[248,0.55],[249,0.93],[249.5,0.92],[250,0.09],[251,0.39],[252,0.7],[252.5,0.08],[253,0.45],[254,0.48],[254.5,0.32],[255,0.27],[256,0.35],[257,0.13],[257.5,0.28],[258,0.51],[259,0.92],[259.5,0.57],[260,0.7],[260.5,0.59],[261,0.9],[261.5,0.41],[262,0.55],[262.5,0.81],[263,0.27],[263.5,0.33],[264,0.59],[264.5,0.5],[265,0.48],[265.5,0.07],[266,0.83],[266.5,0.72],[267,0.89],[267.5,0.41],[268,0.69],[268.5,0.31],[269,0.35],[269.5,0.62],[270,0.52],[270.5,0.02],[271,0.76],[271.5,0.91],[272,0.14],[272.5,0.41],[273,0.88],[273.5,0.69],[274,0.68],[274.5,0.26],[275,0.79],[275.5,0.82],[276,0.91],[276.5,0.32],[277,0.3],[277.5,0.69],[278,0.19],[278.5,0.81],[279,0.6],[279.5,0.96],[280,0.1],[280.5,0.33],[281,0.67],[281.5,0.97],[282,0.26],[282.5,0.03],[283,0.3],[283.5,0.81],[284,0.74],[284.5,0.37],[285,0.12],[285.5,0.3],[286,0.9],[286.5,0.91],[287,0.25]];
const p08Full = [0,8,13,17,31,36,38,41,42,43,44,45,49,50,52,56,59,61,64,66,68,70,71,76,82,85,86,87,88,89,99,100,104,107,108,109,110,111,112,113,114,115,116,117,118,120,121,124,127,143,144,145,147,158,179,180,181,183,186,188,202,208,210,213,218,223,227,235,248,251,253,255,257,259,261,263,264,266,268,270,276,278];
const p08ZeroRuns: Pt[] = [[0,287]];
const p08Fit: Fit[] = [[0,0.023,0.035],[12.7,0.068,0.025],[27.8,0.105,0.02],[46,0.138,0.017],[67.1,0.164,0.016],[88.3,0.175,0.016],[112.5,0.171,0.016],[133.7,0.141,0.016],[151.8,0.123,0.016],[163.9,0.094,0.016],[179,0.073,0.016],[197.2,0.066,0.016],[212.3,0.073,0.016],[227.4,0.091,0.016],[245.5,0.126,0.017],[260.7,0.173,0.02],[275.8,0.236,0.027],[287,0.296,0.037]];

// ---------- pv30-09-09 ----------
const p09Scatter: Pt[] = [[0,0.98],[0,0.65],[0,0.19],[3,0.28],[4.6,0.82],[5,0.35],[5.5,0.25],[7.5,0.7],[7.9,0.32],[8.2,0.03],[9.5,0.92],[9,0.54],[9.3,0.51],[9.5,0.49],[10.2,0.63],[11,0.2],[11.1,0.17],[11.5,0.09],[14,0.9],[15,0.43],[16.1,0.21],[16.1,0.19],[24.2,0.93],[24.5,0.85],[24.5,0.84],[24.5,0.73],[24.5,0.46],[24.5,0.41],[24.5,0.32],[24.5,0.27],[24.5,0.22],[24.5,0.19],[24.9,0.92],[25,0.79],[25.3,0.51],[25.9,0.68],[25.9,0.37],[26,0.02],[26,0.1],[37.4,0.73],[37.4,0.52],[37.6,0.45],[37.8,0.36],[38,0.27],[39,0.97],[39,0.78],[39.3,0.82],[40,0.65],[40.3,0.75],[40.6,0.3],[40.6,0.48],[40.8,0.81],[41,0.24],[42.5,0.27],[43.5,0.28],[43.9,0.83],[44,0.94],[44.5,0.66],[45,0.13],[45.5,0.81],[46,0.14],[47.2,0.59],[47.5,0.68],[47.5,0.09],[49,0.25],[49.5,0.85],[50,0.44],[50.5,0.45],[51,0.17],[52.1,0.97],[53,0.95],[53,0.49],[53.5,0.45],[54,0.36],[54.3,0.34],[54.5,0.39],[55.4,0.13],[56,0.85],[56.5,0.78],[56.8,0.8],[57,0.92],[57.2,0.29],[57.6,0.39],[57.9,0.47],[58.5,0.74],[59,0.72],[60.5,0.33],[61,0.33],[61.5,0.95],[61.9,0.39],[62,0.12],[62.5,0.03],[62.8,0.92],[63.5,0.35],[64,0.65],[64.2,0.57],[64.2,0.44],[64.5,0.45],[64.8,0.3],[64.5,0.32],[64.7,0.77],[65,0.67],[65.2,0.84],[65.5,0.76],[65.8,0.98],[70.5,0.54],[71.8,0.38],[73,0.27],[73.5,0.7],[73.7,0.68],[74,0.26],[74.5,0.35],[75,0.25],[75.5,0.93],[76,0.86],[76,0.76],[76,0.65],[76,0.44],[76,0.26],[76.5,0.21],[77,0.16],[77,0.2],[77.5,0.82],[77.5,0.78],[78,0.21],[78.5,0.29],[78.5,0.27],[79,0.68],[79,0.62],[79.5,0.54],[79.8,0.26],[80,0.97],[80.5,0.02],[81,0.87],[84,0.6],[86.5,0.57],[87.5,0.23],[89.8,0.23],[90,0.53],[99,0.89],[99.6,0.82],[99.6,0.48],[100,0.91],[100.2,0.43],[100.8,0.35],[101,0.13],[101.5,0.72],[102,0.92],[102,0.55],[102.9,0.86],[103.8,0.62],[104.5,0.35],[105,0.03],[107.8,0.6],[108.5,0.51],[108.8,0.43],[109,0.08],[111,0.51],[112,0.35],[112.7,0.1],[113.5,0.4],[113.8,0.25],[114,0.41],[115,0.7],[115.5,0.55],[116.2,0.55],[116.5,0.79],[116.8,0.78],[117.5,0.92],[117.6,0.83],[117.8,0.35],[118.3,0.4],[119.3,0.72],[120,0.73],[120.5,0.4],[121,0.08],[123,0.82],[125.3,0.66],[125.5,0.51],[126,0.98],[126.5,0.6],[126.8,0.59],[127.2,0.54],[127.5,0.48],[127.5,0.13],[127.5,0.11],[128,0.17],[128,0.2],[128.4,0.82],[128.8,0.83],[129.1,0.82],[129.5,0.93],[129.5,0.95],[130.5,0.49],[130.7,0.47],[131,0.41],[131.5,0.43],[131.8,0.2],[176.6,0.93],[176.6,0.66],[176.8,0.86],[177,0.61],[177.5,0.59],[177.6,0.32],[178,0.19],[178.2,0.95],[178.5,0.89],[178.8,0.92],[179.2,0.72],[179.5,0.46],[181.5,0.8],[183.2,0.35],[188,0.21],[201.2,0.38],[202,0.69],[207.5,0.32],[211,0.1],[211.3,0.11],[211.5,0.13],[212.6,0.43],[214,0.27],[214.5,0.59],[215.5,0.76],[216,0.85],[216.2,0.35],[216.5,0.34],[217,0.3],[217.6,0.17],[218,0.11],[219,0.75],[219.5,0.24],[220,0.14],[221.5,0.08],[222.5,0.8],[223.5,0.62],[224.1,0.1],[225,0.76],[226.5,0.24],[227,0.35],[227.4,0.29],[228,0.63],[230,0.12],[231,0.73],[231.5,0.34],[232,0.28],[232.6,0.35],[233.9,0.1],[234.5,0.52],[235,0.55],[236,0.58],[236.5,0.17],[237,0.66],[237.2,0.5],[238,0.93],[239,0.51],[239.6,0.82],[240.5,0.43],[241,0.49],[242,0.25],[242.5,0.93],[243.8,0.55],[244.5,0.22],[245,0.9],[245.5,0.39],[246,0.46],[247,0.32],[247.5,0.16],[248,0.4],[248.5,0.61],[249,0.78],[250.3,0.31],[250.5,0.2],[251,0.96],[251.5,0.34],[252,0.82],[253,0.24],[253.6,0.34],[254,0.47],[254.5,0.07],[255.5,0.57],[256,0.68],[256.9,0.4],[257.5,0.72],[258,0.49],[258.5,0.78],[259.5,0.25],[260.2,0.12],[260.5,0.65],[261,0.82],[261.5,0.31],[262,0.55],[263.4,0.37],[263.8,0.09],[264.5,0.48],[265,0.66],[265.5,0.14],[266.7,0.85],[267,0.56],[267.5,0.35],[268,0.45],[268.5,0.66],[269,0.62],[270,0.43],[270.5,0.19],[271,0.13],[271.5,0.7],[272,0.86],[273.3,0.56],[273.5,0.38],[274,0.65],[274.5,0.24],[275.5,0.53],[276,0.61],[276.5,0.31],[277,0.74],[277.5,0.47],[278,0.13],[278.5,0.82],[279,0.42],[279.8,0.68],[280,0.21],[280.5,0.75],[281,0.54],[281.5,0.58],[282,0.36],[282.5,0.16],[283.1,0.81],[283.5,0.44],[284,0.62],[284.5,0.27],[285,0.07],[286,0.66],[286.4,0.37],[287,0.82],[287.5,0.16],[288,0.78],[288.5,0.38],[289,0.63],[289.6,0.27],[290,0.05],[290.5,0.71],[291,0.94],[291.5,0.41],[292,0.25],[292.9,0.09],[293.5,0.78],[294,0.44],[294.5,0.23],[295,0.07],[296,0.82],[296.2,0.41],[297,0.11],[297.8,0.95],[298,0.43],[298.5,0.08],[299.5,0.93],[309.3,0.68],[309.5,0.51],[310,0.21],[310,0.24]];
const p09Full = [0.5,3,9.5,11,25,26,39,41,42,43,44,45,46,47,48,50,52,54,56,57,59,61,63,66,68,70,78,80,83,85,88,100,102,104,106,108,110,112,115,118,122,128,129,130,131,132,134,136,140,146,176,177,178,179,180,201,205,210,216,220,223,227,233,236,244,246,248,250,252,254,256,258,260,262,264,266,268,270,275,300];
const p09ZeroRuns: Pt[] = [[0,119],[121,181],[182,300],[309,310]];
const p09Fit: Fit[] = [[0,0.067,0.032],[14.4,0.095,0.024],[27.5,0.116,0.019],[47.2,0.139,0.016],[70.1,0.155,0.015],[89.8,0.158,0.015],[112.7,0.152,0.015],[135.6,0.139,0.015],[152,0.127,0.015],[168.4,0.098,0.016],[181.5,0.077,0.016],[201.2,0.065,0.016],[214.3,0.065,0.016],[227.4,0.074,0.016],[240.5,0.093,0.016],[253.6,0.122,0.017],[266.7,0.155,0.019],[279.8,0.196,0.023],[296.2,0.263,0.032],[310,0.318,0.045]];

// ---------- pv30-10-09 ----------
const p10Scatter: Pt[] = [[0,0.985],[0.1,0.16],[5.33,0.46],[5.6,0.37],[5.72,0.43],[5.84,0.95],[6.13,0.51],[6.25,0.86],[6.98,0.78],[7.1,0.62],[7.3,0.67],[11.33,0.14],[11.4,0.22],[11.44,0.33],[11.74,0.91],[11.85,0.71],[11.97,0.43],[12.15,0.93],[12.4,0.9],[15.4,0.46],[15.6,0.33],[15.79,0.78],[16.32,0.52],[16.54,0.82],[18.38,0.56],[18.49,0.94],[18.55,0.49],[18.7,0.32],[18.83,0.14],[19.57,0.13],[19.65,0.13],[19.91,0.97],[20.02,0.84],[20.1,0.46],[20.43,0.57],[20.66,0.11]];
const p10Full = [5.33,5.4,5.55,5.65,5.95,6.1,6.25,6.35,6.45,6.55,6.65,6.75,6.85,7.0,7.6,7.65,11.85,12.35,15.6,16.4,16.5,18.7,19.6,19.9,20.2,20.3];
const p10ZeroRuns: Pt[] = [[0.1,5],[5.7,5.75],[7.3,7.35],[7.7,11.3],[11.6,11.65],[11.8,11.85],[12.5,15.5],[15.7,16.2],[16.6,18.3],[18.6,19.1],[19.2,20],[20.3,20.4],[20.7,21.9]];
const p10Fit: Fit[] = [[0,-0.116,0.155],[1.03,0,0.118],[2.17,0.106,0.095],[3.32,0.194,0.08],[4.23,0.244,0.075],[5.38,0.284,0.07],[6.52,0.31,0.075],[7.55,0.327,0.08],[8.35,0.31,0.09],[9.27,0.224,0.09],[10.18,0.152,0.085],[10.87,0.116,0.08],[11.78,0.103,0.075],[12.7,0.103,0.072],[13.84,0.112,0.07],[14.99,0.148,0.07],[16.36,0.165,0.068],[17.73,0.181,0.062],[19.1,0.189,0.06],[20.48,0.194,0.09],[21.9,0.194,0.154]];

// ---------- pv30-11-09 ----------
const p11Scatter: Pt[] = [[0,0.98],[0,0.86],[6.4,0.95],[7.8,0.1],[8.3,0.7],[8.7,0.14],[23.7,0.68],[24,0.94],[24,0.29],[24,0.24],[24.3,0.46],[24.5,0.91],[24.5,0.89],[24.7,0.84],[24.7,0.72],[25,0.3],[25,0.13],[25.3,0.17],[25.5,0.51],[25.5,0.59],[25.8,0.82],[26,0.41],[26.2,0.97],[26.5,0.7],[26.6,0.63],[26.9,0.48],[27.5,0.73],[27.8,0.68],[28,0.25],[28.2,0.3],[28.5,0.54],[28.5,0.85],[29.4,0.77],[29.5,0.68],[29.5,0.25],[41,0.62],[41,0.7],[41,0.73],[41,0.79],[41,0.97],[49.7,0.6],[49.7,0.4],[50,0.87],[50,0.94],[50.5,0.55],[50.5,0.32],[50.5,0.2],[50.8,0.66],[51.1,0.95],[51.5,0.51],[52,0.66],[52.5,0.89],[52.5,0.52],[52.5,0.41],[53,0.3],[54,0.16],[54,0.87],[55,0.49],[55.4,0.85],[56,0.57],[56.5,0.82],[56.5,0.52],[56.9,0.57],[57.5,0.37],[57.5,0.85],[58.3,0.48],[58.8,0.48],[59.3,0.76],[59.5,0.1],[60,0.65],[61.2,0.24],[61.5,0.5],[62.6,0.28],[62.8,0.6],[62.8,0.68],[63.5,0.53],[63.8,0.28],[64.1,0.08],[64.1,0.26],[64.5,0.81],[64.5,0.94],[64.8,0.25],[65.5,0.33],[65.5,0.1],[65.8,0.62],[66,0.98],[67,0.97],[69,0.59],[70.5,0.73],[71.5,0.24],[72,0.95],[73,0.38],[73.5,0.67],[75,0.24],[75.5,0.6],[76.5,0.05],[76.5,0.93],[77.2,0.1],[78,0.91],[78.5,0.19],[79.5,0.33],[80,0.27],[81.4,0.45],[81.4,0.89],[82,0.82],[82,0.81],[82.9,0.52],[83.5,0.81],[84.3,0.47],[85.2,0.14],[86.8,0.87],[87.2,0.25],[88.2,0.75],[88.6,0.25],[88.6,0.87],[89.5,0.56],[89.8,0.57],[90,0.65],[91.5,0.78],[91.5,0.56],[92.6,0.57],[93,0.32],[93,0.01],[94.4,0.01],[104,0.64],[105.5,0.67],[110.3,0.85],[110.5,0.24],[110.5,0.63],[110.5,0.46],[110.8,0.59],[111.5,0.86],[112.5,0.38],[113,0.73],[113.2,0.82],[114.5,0.89],[115,0.82],[115.5,0.86],[116.5,0.94],[117,0.48],[118.4,0.16],[119,0.25],[119.5,0.49],[123,0.62],[123.5,0.94],[124.2,0.28],[124.7,0.3],[124.7,0.69],[124.7,0.65],[125,0.78],[125.8,0.86],[126,0.82],[126.4,0.75],[126.5,0.56],[126.7,0.58],[127.3,0.21],[128,0.1],[127.6,0.95],[136.3,0.54],[136.3,0.66],[144.7,0.54],[145,0.29],[146.7,0.72],[147.3,0.65],[147.5,0.19],[147.5,0.2],[147.8,0.63],[148,0.82],[147.8,0.13],[149,0.16],[149,0.54],[149.5,0.78],[150.7,0.28],[150.7,0.29],[155.3,0.79],[155.5,0.38],[156,0.28],[157,0.29],[157.3,0.33],[157,0.1],[160.8,0.48],[160.8,0.45],[161.3,0.13],[162,0.5],[162,0.29],[163,0.38],[163.2,0.35],[164,0.94],[164.8,0.78],[165,0.1],[165,0.75],[166,0.16],[166.5,0.24],[167.2,0.87],[168,0.08],[168,0.34],[168,0.43],[168.5,0.38],[168.8,0.81],[169.5,0.73],[169.7,0.27],[170,0.78],[170.5,0.6],[170.5,0.77],[172,0.33],[173.2,0.63],[173.7,0.11],[174.5,0.54],[174.5,0.44],[174.7,0.5],[174.7,0.48],[175.2,0.91],[175.5,0.35],[175.5,0.1],[175,0.19],[175,0.07],[176.2,0.06],[176.5,0.68],[176.5,0.3],[176.7,0.01],[177.3,0.08],[176.7,0.49],[178.2,0.22],[184.5,0.38],[186,0.54],[186.5,0.43],[186.5,0.44],[187,0.82],[187.5,0.97],[188,0.92],[188,0.8],[188.2,0.58],[189,0.87],[189.2,0.92],[189.2,0.81],[189.5,0.54],[191.5,0.39],[191.5,0.19],[192.5,0.31],[192.5,0.3],[193.5,0.12],[194,0.68],[194,0.65],[194.5,0.57],[195,0.75],[196,0.94],[196.5,0.35],[196.5,0.22],[196.9,0.21],[197,0.46],[197.5,0.81],[198,0.71],[198.4,0.66],[199,0.91],[199.5,0.78],[201,0.22],[201.5,0.91],[206.5,0.68],[206.8,0.6],[207,0.27],[207,0.51],[207.5,0.65],[208,0.73],[209,0.65],[210,0.92],[221.5,0.27],[226,0.7],[226,0.52],[226.5,0.51],[227,0.87],[227,0.88],[227.5,0.61],[227.7,0.59],[228,0.95],[228,0.92],[228,0.11],[228,0.71],[230,0.65],[232,0.87],[234,0.69],[234.5,0.14],[235.4,0.25],[236,0.43],[236.5,0.41],[237,0.95],[237.3,0.97],[237.5,0.38],[238,0.47],[238,0.81],[238.7,0.4],[239.5,0.08],[239.5,0.14],[240,0.17],[240.2,0.14],[241,0.54],[241.5,0.49],[241.6,0.72],[242.2,0.75],[242.5,0.84],[243,0.33],[243.2,0.29],[243.6,0.93],[244,0.16],[244.5,0.33],[245.5,0.88],[246.5,0.89],[246.5,0.41],[247.4,0.62],[248,0.16],[248,0.71],[249.5,0.14],[250.3,0.3],[251,0.09],[251.7,0.28],[252.5,0.08],[253,0.79],[253.2,0.32],[254,0.91],[254.6,0.26],[255,0.79],[256.5,0.27],[257,0.89],[257.5,0.16],[258.5,0.31],[259,0.06],[260.4,0.42],[260.4,0.91],[261.8,0.1],[262.4,0.79],[264,0.1],[265.5,0.75],[265.5,0.43],[265.5,0.14],[266.5,0.03]];
const p11Full = [1,7.8,8.2,24.5,25,25.5,26,26.5,27,28,29.5,41,43,50,52,53,54,56,57,58,59,60,61,63,64,65,66,68,70,72,74,76,77,78,79,80,82,84,86,88,90,93,95,98,100,102,104,110,116,123,124,126,128,131,136,140,143,147,150,153,155,158,160,163,165,168,170,172,175,178,183,187,188,190,193,195,197,200,203,205,209,233,235,237,239,243,245,247,249,251,253,255,257];
const p11ZeroRuns: Pt[] = [[0,274]];
const p11Fit: Fit[] = [[0,0.054,0.04],[12.1,0.093,0.027],[23.7,0.119,0.02],[38.1,0.139,0.017],[52.5,0.148,0.016],[67,0.152,0.016],[81.4,0.136,0.016],[98.7,0.119,0.015],[116,0.098,0.015],[127.6,0.085,0.015],[139.1,0.085,0.015],[153.6,0.096,0.015],[168,0.108,0.015],[185.3,0.119,0.015],[202.7,0.127,0.015],[222.9,0.129,0.016],[240.2,0.127,0.018],[254.6,0.122,0.024],[274,0.111,0.036]];

// ---------- pv30-12-09 ----------
const p12Scatter: Pt[] = [[0,0.98],[0,0.82],[2.7,0.75],[3,0.32],[3.2,0.46],[3.4,0.03],[8,0.73],[8,0.35],[12.1,0.27],[12.3,0.14],[12.5,0.21],[12.5,0.57],[12.7,0.51],[12.8,0.41],[12.9,0.29],[12.7,0.62],[16.4,0.68],[16.4,0.65],[18.4,0.56],[20,0.89],[20,0.63],[20,0.24],[33,0.75],[33.1,0.16],[34,0.73],[34,0.37],[34.2,0.19],[34.4,0.46],[34.6,0.27],[34.8,0.16],[35.3,0.84],[35.3,0.82],[35.6,0.62],[35.9,0.14],[36.3,0.41],[36.4,0.27],[36.6,0.68],[36.9,0.52],[37.2,0.95],[37.4,0.65],[37.5,0.87],[37.7,0.62],[37.8,0.16],[43,0.32],[44,0.78],[44.5,0.86],[44.9,0.73],[45,0.97],[45.8,0.6],[46.3,0.93],[47,0.79],[47,0.82],[47.1,0.27],[48,0.37],[48.6,0.68],[51,0.73],[51,0.67],[51,0.27],[51,0.24],[51.2,0.38],[51.4,0.05],[52.6,0.33],[52.9,0.44],[53.2,0.02],[53.3,0.25],[55.8,0.81],[56,0.14],[56.4,0.91],[56.5,0.3],[56.7,0.92],[57.2,0.76],[57.4,0.32],[57.7,0.72],[59.9,0.73],[59.9,0.44],[60.6,0.14],[60.9,0.86],[61,0.46],[61,0.35],[61.2,0.33],[61.5,0.89],[61.7,0.87],[62,0.1],[62,0.33],[62,0.32],[63.6,0.1],[63.6,0.36],[63.8,0.41],[64,0.4],[64.1,0.97],[64.3,0.21],[64.7,0.47],[64.7,0.46],[64.9,0.91],[65.2,0.57],[65.7,0.57],[66.3,0.68],[68.7,0.92],[68.7,0.47],[69.2,0.24],[70,0.33],[70.5,0.32],[71.3,0.97],[71.6,0.52],[72,0.86],[72.5,0.86],[72.5,0.33],[72.8,0.92],[73.5,0.7],[75,0.82],[75.4,0.54],[75.4,0.67],[76,0.11],[76,0.32],[76.2,0.41],[76.4,0.35],[76.8,0.32],[77.2,0.84],[77.5,0.82],[78.3,0.37],[78.8,0.38],[79,0.84],[79.4,0.3],[79.2,0.49],[80.2,0.19],[80.6,0.84],[80.7,0.72],[80.7,0.75],[80.9,0.11],[80.9,0.86],[81.2,0.24],[82.8,0.81],[83.1,0.75],[83.1,0.14],[83.4,0.68],[83.5,0.91],[83.7,0.1],[84.4,0.56],[84.8,0.05],[85.5,0.72],[87.2,0.45],[87.3,0.29],[87.6,0.27],[87.8,0.56],[88.2,0.32],[88,0.22],[88.3,0.25],[88.2,0.9],[88.4,0.1],[88.7,0.54],[88.9,0.61],[89.4,0.46],[90,0.13],[90.3,0.72],[90.3,0.4],[90.5,0.36],[90.8,0.72],[90.9,0.46],[91.4,0.75],[91.4,0.95],[91.6,0.87],[91.6,0.84],[91.8,0.3],[92,0.76],[92.6,0.86],[93.4,0.07],[94,0.29],[96.4,0.68],[96.4,0.44],[96.7,0.08],[96.9,0.13]];
const p12Full = [3,3.3,20,34,34.5,35,36,38,46,47,55.5,56,56.5,57,59.5,60.5,62,64,64.5,68,69,70,73,74,75.5,77,79,80,82,83,84,88,89,90,90.5,91,92,97.5];
const p12ZeroRuns: Pt[] = [[0,101]];
const p12Fit: Fit[] = [[0,0.062,0.058],[5.9,0.052,0.04],[12.3,0.048,0.028],[20.8,0.055,0.024],[27.3,0.067,0.023],[34.7,0.088,0.023],[41.2,0.115,0.023],[46.5,0.139,0.022],[51.8,0.149,0.022],[58.3,0.157,0.022],[64.7,0.165,0.022],[70,0.173,0.023],[73.4,0.177,0.024],[77.5,0.175,0.025],[82.8,0.165,0.027],[88.2,0.147,0.031],[92.5,0.129,0.037],[96.7,0.103,0.045],[101,0.075,0.056]];

// ---------- pv30-13-09 ----------
const p13Scatter: Pt[] = [[0,0.92],[2,0.17],[2.5,0.48],[3,0.43],[3,0.89],[3.5,0.03],[4,0.41],[4.5,0.96],[5,0.15],[5,0.08],[5.5,0.97],[6,0.91],[6.5,0.56],[7.5,0.24],[8,0.15],[8.5,0.9],[9,0.48],[9.5,0.84],[9.5,0.1],[10.5,0.4],[11,0.22],[11.5,0.35],[12,0.32],[12.5,0.59],[13,0.92],[13.5,0.4],[14,0.68],[14.5,0.63],[15,0.94],[15.5,0.07],[16,0.45],[16.5,0.32],[17,0.65],[17.5,0.6],[18,0.95],[18.5,0.37],[19,0.79],[19,0.24],[19.5,0.85],[20,0.55],[20.5,0.5],[20.8,0.03],[21.5,0.72],[22,0.35],[22.2,0.84],[22.5,0.79],[23,0.25],[23.5,0.43],[24,0.7],[24.5,0.21],[25,0.87],[25.5,0.55],[26,0.78],[26.5,0.46],[27,0.16],[27.5,0.65],[28,0.86],[28.5,0.32],[29,0.49],[29.5,0.95],[30,0.42],[30.5,0.27],[31,0.7],[31.5,0.16],[32,0.67],[33,0.31],[33.5,0.83],[34.2,0.16],[35,0.7],[35.5,0.38],[36,0.14],[36.8,0.32],[37,0.7],[38,0.81],[38.2,0.16],[39,0.13],[39.5,0.23],[40.5,0.24],[40.8,0.87],[41.5,0.54],[42,0.43],[42.2,0.79],[42.5,0.68],[43,0.43],[43.5,0.32],[44,0.6],[44.8,0.65],[45,0.94],[46,0.18],[46,0.85],[46.2,0.68],[46.5,0.95],[47.5,0.52],[48,0.09],[48.8,0.41],[48.8,0.52],[49,0.27],[49.5,0.81],[50,0.19],[50.2,0.93],[51,0.17],[51.5,0.21],[52,0.83],[52.5,0.17],[53,0.98],[53.5,0.61],[54.2,0.21],[54.5,0.78],[55,0.95],[55.5,0.75],[56,0.15],[57,0.2],[57.5,0.85],[58,0.97],[58.2,0.63],[59.5,0.82],[60,0.21],[60.8,0.05],[62,0.87],[62.5,0.21],[63.5,0.64],[64,0.14],[66,0.8],[67,0.41],[68,0.37],[68.9,0.6],[69.5,0.84],[70,0.51],[70.5,0.65],[71,0.11],[71.5,0.33],[72.5,0.28],[73,0.63],[74,0.88],[74.2,0.45],[74.5,0.39],[75,0.42],[75.5,0.82],[75.8,0.35],[76.5,0.3],[76.9,0.19],[77,0.86],[77.5,0.07],[78,0.89],[78.5,0.37],[79,0.84],[79.5,0.59],[79.5,0.44],[80,0.4],[81,0.5],[81.5,0.52],[82.2,0.7],[83,0.35],[84,0.21],[84.9,0.72],[85.5,0.74],[86,0.35],[86.5,0.24],[87,0.84],[87.5,0.97],[88,0.37],[88.5,0.19],[88.8,0.59],[89,0.86],[89.5,0.8],[90,0.66],[90.2,0.63],[90.5,0.91],[90.8,0.62],[91,0.79],[91.2,0.93],[91.5,0.52],[92,0.85],[92.9,0.39],[93.5,0.76],[98.5,0.73],[100,0.29],[100.9,0.31],[101,0.35],[103.5,0.98],[104.5,0.97],[105,0.82],[105.5,0.74],[105.5,0.72],[106,0.73],[106.2,0.55],[106.2,0.53],[106.5,0.81],[106.5,0.19],[107.5,0.1],[108,0.05],[108.9,0.87],[112,0.22],[112,0.08],[112,0.02],[112.3,0.79],[113,0.43],[113,0.76],[113.5,0.08],[114.2,0.54],[114.5,0.33],[115,0.43],[115.5,0.45],[116,0.17],[116.9,0.73],[117,0.59],[117.5,0.68],[118,0.92],[118,0.94],[118.5,0.43],[119,0.59],[119.6,0.73],[119.6,0.32],[120,0.31],[120.5,0.58],[120.5,0.44],[121,0.45],[121.2,0.17],[122,0.41],[122.2,0.82],[123,0.61],[123.5,0.35],[124,0.19],[127.6,0.19],[128,0.3],[128.5,0.51],[129,0.6],[129,0.28],[130,0.51],[130,0.18],[130.2,0.15],[130.5,0.14],[131,0.63],[131.5,0.89],[131.5,0.84],[132,0.73],[132,0.12],[133,0.46],[133.5,0.44],[134,0.25],[138.2,0.37],[139,0.35],[139.5,0.37],[140,0.84],[140.9,0.36],[143.6,0.84],[143.6,0.82],[144.2,0.32],[145,0.07],[146.3,0.82],[150,0.01],[158.3,0.4],[158.5,0.37],[159.6,0.6],[160,0.1],[161,0.84],[162,0.92],[162.3,0.84],[163.7,0.92],[164.5,0.17],[169,0.16],[170.3,0.39],[177,0.49],[179.6,0.13],[180,0.27],[181,0.22],[181.5,0.45],[182,0.2],[182.3,0.56],[183,0.11],[183.6,0.82],[184,0.96],[184,0.55],[184.5,0.3],[185,0.28],[185.5,0.43],[186,0.42],[186.3,0.11],[187,0.47],[187.5,0.29],[188,0.45],[189,0.28],[189.2,0.27],[189.6,0.38],[190,0.38],[190.3,0.11],[190.5,0.2],[191,0.38],[191.6,0.28],[192,0.29],[192.5,0.2],[193,0.14],[193.5,0.16],[194.3,0.38],[194.5,0.31],[195,0.54],[195.6,0.11],[196,0.35],[196,0.12],[197,0.24],[197,0.48],[197.5,0.4],[198,0.81],[198.3,0.25],[198.5,0.65],[199,0.66],[199,0.22],[199.6,0.22],[200,0.08],[200.5,0.68],[201,0.25],[201.5,0.62],[202,0.43],[202.3,0.48],[202.5,0.12],[203,0.11],[203.6,0.25],[204,0.4],[204.5,0.2],[205,0.23],[205.5,0.14],[206,0.48],[206.3,0.74],[206.5,0.75],[207,0.41],[207.6,0.39],[208,0.65],[208.5,0.55],[209,0.39],[209,0.28],[209.5,0.09],[210,0.57],[210.3,0.28],[210.5,0.41],[211,0.33],[211.6,0.29],[212,0.3],[212.5,0.27],[213,0.52],[213.5,0.36],[214.3,0.54],[214.5,0.42],[215,0.22],[215.7,0.16],[216,0.2],[216.5,0.57],[217,0.35],[217.5,0.46],[218,0.93],[218.3,0.56],[218.5,0.29],[219,0.12],[219.6,0.31],[220,0.73],[220.5,0.02],[221,0.21],[221.5,0.27],[222,0.35],[222.3,0.49],[222.5,0.68],[223,0.78],[223.5,0.44],[224,0.15],[224.5,0.57],[225,0.14],[225.5,0.35],[226,0.04],[226.3,0.08],[227,0.31],[227.5,0.19],[228,0.27],[228.5,0.81],[229,0.25],[229.5,0.12],[230,0.24],[230.3,0.2],[231,0.11],[231.5,0.07],[232,0.93],[232.5,0.67],[232.5,0.47],[233,0.12],[233.5,0.74],[234,0.84],[234.3,0.15],[235,0.57],[235.5,0.49],[235.7,0.25],[236,0.96],[236.5,0.43],[237,0.86],[237.5,0.45],[238,0.72],[238.3,0.68],[238.5,0.85],[239.5,0.84],[240,0.68],[249,0.29],[250.3,0.97],[250.5,0.62],[251,0.24],[251.3,0.86],[251.7,0.92],[252,0.84],[253,0.38]];
const p13Full = [5.5,6.5,8,10.5,11.5,13,16,19,22,24,26,31,41,45,48,50,52,53,54,54.5,55.5,68,70,71,72,73,84,85,86,87,88,89,90,91,95,97,98,99,101,102,103,104,118,122,127,128,131,141,142,162,163,171,202,218,219,221,223,224,227,230,232,235,240];
const p13ZeroRuns: Pt[] = [[0,241.5],[249,253]];
const p13Fit: Fit[] = [[0,0.119,0.037],[12.8,0.129,0.027],[28.8,0.145,0.02],[47.5,0.16,0.017],[66.2,0.173,0.016],[79.5,0.182,0.016],[90.2,0.184,0.016],[103.5,0.176,0.016],[116.9,0.16,0.016],[127.6,0.139,0.016],[138.2,0.103,0.016],[148.9,0.077,0.016],[162.3,0.065,0.016],[175.6,0.059,0.016],[189,0.062,0.016],[202.3,0.074,0.016],[215.7,0.093,0.017],[229,0.119,0.021],[239.7,0.145,0.028],[253,0.186,0.044]];

const scatterSets = [p01Scatter, p02Scatter, p03Scatter, p05Scatter, p06Scatter, p07Scatter, p08Scatter, p09Scatter, p10Scatter, p11Scatter, p12Scatter, p13Scatter];
const fullSets = [p01Full, p02Full, p03Full, p05Full, p06Full, p07Full, p08Full, p09Full, p10Full, p11Full, p12Full, p13Full];
const zeroSets = [p01ZeroRuns, p02ZeroRuns, p03ZeroRuns, p05ZeroRuns, p06ZeroRuns, p07ZeroRuns, p08ZeroRuns, p09ZeroRuns, p10ZeroRuns, p11ZeroRuns, p12ZeroRuns, p13ZeroRuns];
const fitSets = [p01Fit, p02Fit, p03Fit, p05Fit, p06Fit, p07Fit, p08Fit, p09Fit, p10Fit, p11Fit, p12Fit, p13Fit];
const yTickSets = seals.map((s) => (s === "pv30-10-09" ? yTicksFifth : yTicksQuarter));

// ---------- layout (plot-area boxes, px) ----------
const boxes = [
  { l: 43, r: 391, t: 6.5 }, { l: 496, r: 842, t: 6.5 }, { l: 948, r: 1296, t: 6.5 },
  { l: 43, r: 391, t: 397 }, { l: 496, r: 842, t: 397 }, { l: 948, r: 1296, t: 397 },
  { l: 43, r: 391, t: 787.3 }, { l: 496, r: 842, t: 787.3 }, { l: 944, r: 1296, t: 787.3 },
  { l: 43, r: 391, t: 1177.5 }, { l: 440, r: 787, t: 1177.5 }, { l: 836, r: 1184, t: 1177.5 },
];
const BOX_H = 355.5;
const FONT = "'Liberation Sans', Arial, Helvetica, sans-serif";
const SMOOTH_COLORS: Record<string, string> = { a: "#3366FF", b: "#FF0000" };
const DAY = 864e5;

function extendMid(vals: number[]): number[] {
  if (vals.length < 2) return [];
  const ext = [vals[0] - (vals[1] - vals[0]), ...vals, vals[vals.length - 1] + (vals[vals.length - 1] - vals[vals.length - 2])];
  const mids: number[] = [];
  for (let i = 0; i < ext.length - 1; i++) mids.push((ext[i] + ext[i + 1]) / 2);
  return mids;
}

function Panel({ i }: { i: number }) {
  const box = boxes[i];
  const top = box.t, bottom = box.t + BOX_H;
  const t0 = trackStarts[i].getTime();
  const span = trackDays[i];
  const toDate = (d: number) => new Date(t0 + d * DAY);
  const x = d3.scaleTime().domain([toDate(-0.05 * span), toDate(span * 1.05)]).range([box.l, box.r]);

  const fit = fitSets[i];
  const lo = Math.min(0, d3.min(fit, (f) => f[1] - f[2]) as number);
  const hi = Math.max(1, d3.max(fit, (f) => f[1] + f[2]) as number);
  const pad = (hi - lo) * 0.05;
  const y = d3.scaleLinear().domain([lo - pad, hi + pad]).range([bottom, top]);

  const xTicks = xTickSets[i];
  const yTicks = yTickSets[i];
  const [dx0, dx1] = x.domain().map((d) => d.getTime());
  const xMinor = extendMid(xTicks.map((t) => t[0].getTime())).filter((v) => v > dx0 && v < dx1);
  const [dy0, dy1] = y.domain();
  const yMinor = extendMid(yTicks.map((t) => t[0])).filter((v) => v > dy0 && v < dy1);

  const curve = d3.curveBasis;
  const ribbon = d3.area<Fit>().x((f) => x(toDate(f[0]))).y0((f) => y(f[1] - f[2])).y1((f) => y(f[1] + f[2])).curve(curve);
  const line = d3.line<Fit>().x((f) => x(toDate(f[0]))).y((f) => y(f[1])).curve(curve);

  const clipId = `clip-${i}`;
  const labelChars = yTicks[0][1].length;
  const cx = (box.l + box.r) / 2;
  const cy = (top + bottom) / 2;

  return (
    <g>
      <defs>
        <clipPath id={clipId}>
          <rect x={box.l} y={top} width={box.r - box.l} height={BOX_H} />
        </clipPath>
      </defs>
      <rect x={box.l} y={top} width={box.r - box.l} height={BOX_H} fill="#FFFFFF" />
      <g clipPath={`url(#${clipId})`}>
        {yMinor.map((v, k) => (
          <line key={`ym${k}`} x1={box.l} x2={box.r} y1={y(v)} y2={y(v)} stroke="#EDEDED" strokeWidth={0.6} />
        ))}
        {xMinor.map((v, k) => (
          <line key={`xm${k}`} x1={x(new Date(v))} x2={x(new Date(v))} y1={top} y2={bottom} stroke="#EDEDED" strokeWidth={0.6} />
        ))}
        {yTicks.map((t, k) => (
          <line key={`yM${k}`} x1={box.l} x2={box.r} y1={y(t[0])} y2={y(t[0])} stroke="#E6E6E6" strokeWidth={1} />
        ))}
        {xTicks.map((t, k) => (
          <line key={`xM${k}`} x1={x(t[0])} x2={x(t[0])} y1={top} y2={bottom} stroke="#E6E6E6" strokeWidth={1} />
        ))}

        {zeroSets[i].map((r, k) => (
          <line key={`z${k}`} x1={x(toDate(r[0])) - 0.8} x2={x(toDate(r[1])) + 0.8} y1={y(0)} y2={y(0)} stroke="#111" strokeWidth={2.2} />
        ))}
        {fullSets[i].map((d, k) => (
          <circle key={`f${k}`} cx={x(toDate(d))} cy={y(1)} r={1.05} fill="#111" />
        ))}
        {scatterSets[i].map((p, k) => (
          <circle key={`p${k}`} cx={x(toDate(p[0]))} cy={y(p[1])} r={0.95} fill="#1A1A1A" fillOpacity={0.9} />
        ))}

        <path d={ribbon(fit) || ""} fill="#999999" fillOpacity={0.4} />
        <path d={line(fit) || ""} fill="none" stroke={SMOOTH_COLORS[smoothGroup[i]]} strokeWidth={1.2} />
      </g>
      <rect x={box.l} y={top} width={box.r - box.l} height={BOX_H} fill="none" stroke="#5A5A5A" strokeWidth={1} />

      {yTicks.map((t, k) => (
        <g key={`yt${k}`}>
          <line x1={box.l - 2.5} x2={box.l} y1={y(t[0])} y2={y(t[0])} stroke="#444" strokeWidth={0.8} />
          <text x={box.l - 4.5} y={y(t[0])} dy="0.35em" textAnchor="end" fontSize={7.6} fill="#4D4D4D" fontFamily={FONT}>
            {t[1]}
          </text>
        </g>
      ))}
      {xTicks.map((t, k) => (
        <g key={`xt${k}`}>
          <line x1={x(t[0])} x2={x(t[0])} y1={bottom} y2={bottom + 2.5} stroke="#444" strokeWidth={0.8} />
          <text x={x(t[0])} y={bottom + 11.5} textAnchor="middle" fontSize={7.6} fill="#4D4D4D" fontFamily={FONT}>
            {t[1]}
          </text>
        </g>
      ))}
      <text x={cx} y={bottom + 22} textAnchor="middle" fontSize={9.6} fill="#000" fontFamily={FONT}>
        {`Timeline for ID ${seals[i]} (northern Norway)`}
      </text>
      <text
        transform={`translate(${box.l - (labelChars === 4 ? 23.5 : 19.5)},${cy}) rotate(-90)`}
        textAnchor="middle"
        fontSize={9.6}
        fill="#000"
        fontFamily={FONT}
      >
        Proportion of time hauled out
      </text>
    </g>
  );
}

export default function App() {
  return (
    <svg
      width={1308}
      height={1562}
      viewBox="0 0 1308 1562"
      style={{ position: "absolute", left: 0, top: 0, background: "#FFFFFF" }}
    >
      <rect x={0} y={0} width={1308} height={1562} fill="#FFFFFF" />
      {seals.map((_, i) => (
        <Panel key={i} i={i} />
      ))}
    </svg>
  );
}
